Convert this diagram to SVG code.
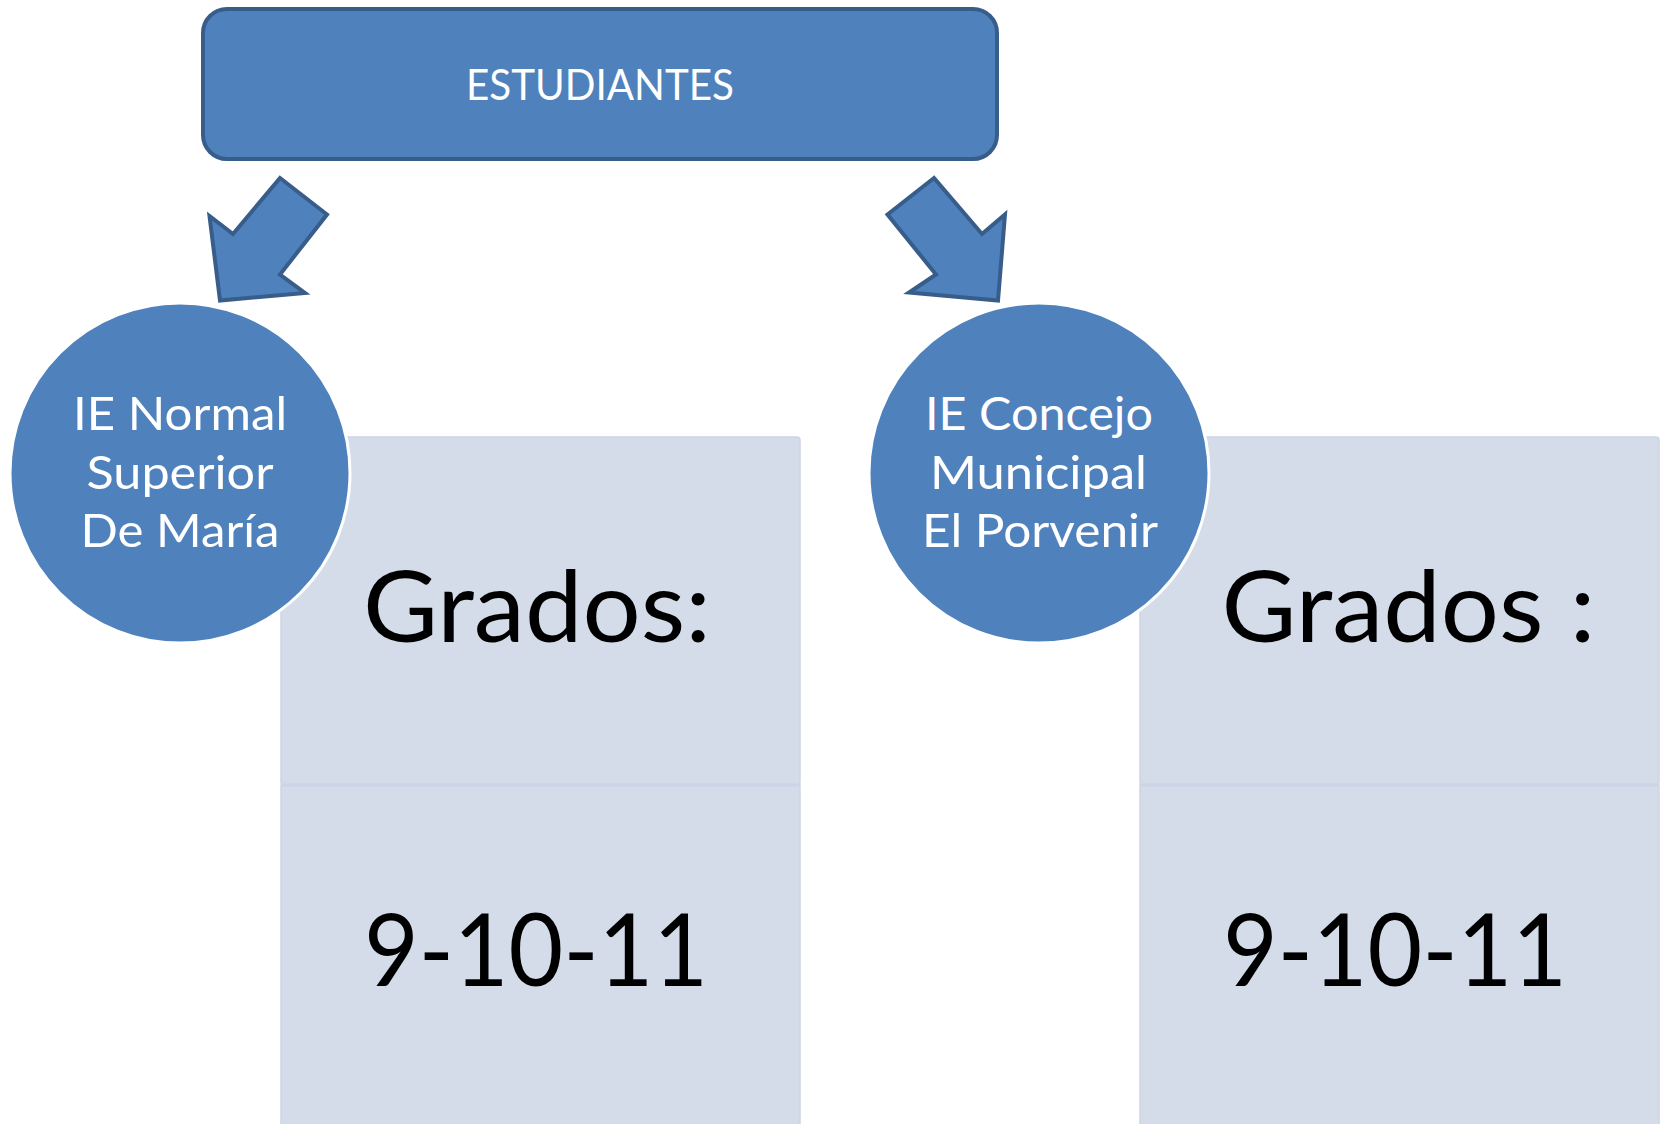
<svg xmlns="http://www.w3.org/2000/svg" width="1667" height="1124" viewBox="0 0 1667 1124">
<style>
.blue{fill:#4F81BD;stroke:#385D8A;stroke-width:4;stroke-linejoin:miter}
.circ{fill:#4F81BD;stroke:#FFFFFF;stroke-width:3}
.cell{fill:#D4DCEA;stroke:#CCD4E6;stroke-width:1.5}
.wt{font-family:Lato,"Open Sans","Liberation Sans",sans-serif;fill:#FFFFFF;text-anchor:middle}
.bk{font-family:Lato,"Open Sans","Liberation Sans",sans-serif;fill:#000000;text-anchor:middle}
</style>
<rect width="1667" height="1124" fill="#FFFFFF"/>
<g id="estudiantes">
<rect class="blue" x="203" y="9" width="794" height="150" rx="24"/>
<text class="wt" x="600" y="100" font-size="42" textLength="268" lengthAdjust="spacingAndGlyphs">ESTUDIANTES</text>
</g>
<g id="connectors">
<polygon class="blue" points="280,178 327,214.5 280,274.5 305,293 220,300.5 209.5,216 233,234"/>
<polygon class="blue" points="934,178 887.5,214.5 936,274.5 909,292.5 998,300.5 1005,214.5 982,234"/>
</g>
<g id="grados-normal">
<rect class="cell" x="281" y="437" width="519" height="348" rx="3"/>
<rect class="cell" x="281" y="785" width="519" height="345"/>
<line x1="281" y1="785" x2="800" y2="785" stroke="#CCD4E6" stroke-width="3"/>
<text class="bk" x="537" y="642" font-size="98" textLength="348" lengthAdjust="spacingAndGlyphs">Grados:</text>
<text class="bk" x="536" y="986" font-size="100" textLength="344" lengthAdjust="spacingAndGlyphs">9-10-11</text>
</g>
<g id="grados-concejo">
<rect class="cell" x="1140" y="437" width="519" height="348" rx="3"/>
<rect class="cell" x="1140" y="785" width="519" height="345"/>
<line x1="1140" y1="785" x2="1659" y2="785" stroke="#CCD4E6" stroke-width="3"/>
<text class="bk" x="1408.5" y="642" font-size="98" textLength="374" lengthAdjust="spacingAndGlyphs">Grados :</text>
<text class="bk" x="1395" y="986" font-size="100" textLength="344" lengthAdjust="spacingAndGlyphs">9-10-11</text>
</g>
<g id="ie-normal">
<circle class="circ" cx="180" cy="473" r="170"/>
<text class="wt" x="180" y="430" font-size="47" textLength="214" lengthAdjust="spacingAndGlyphs">IE Normal</text>
<text class="wt" x="180" y="488.5" font-size="47" textLength="187" lengthAdjust="spacingAndGlyphs">Superior</text>
<text class="wt" x="180" y="547" font-size="47" textLength="199" lengthAdjust="spacingAndGlyphs">De María</text>
</g>
<g id="ie-concejo">
<circle class="circ" cx="1039" cy="473" r="170"/>
<text class="wt" x="1039" y="430" font-size="47" textLength="228" lengthAdjust="spacingAndGlyphs">IE Concejo</text>
<text class="wt" x="1038.5" y="488.5" font-size="47" textLength="217" lengthAdjust="spacingAndGlyphs">Municipal</text>
<text class="wt" x="1040" y="547" font-size="47" textLength="236" lengthAdjust="spacingAndGlyphs">El Porvenir</text>
</g>
</svg>
